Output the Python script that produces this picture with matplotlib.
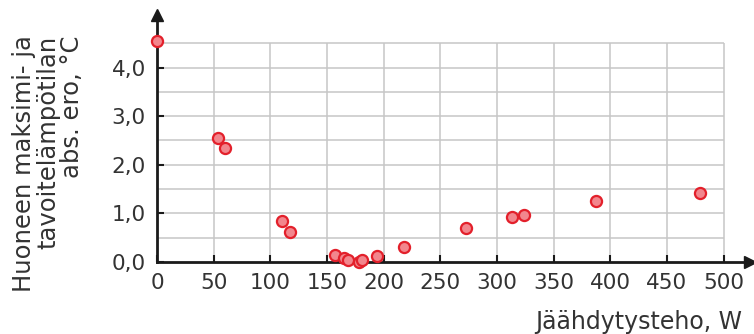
import matplotlib.pyplot as plt

# cooling power (W) vs. abs. difference of room max and target temperature (°C)
power = [0, 54, 60, 110, 117, 157, 165, 169, 178, 181, 194, 218, 273, 313, 324, 387, 479]
temp_diff = [4.55, 2.55, 2.35, 0.84, 0.62, 0.14, 0.08, 0.04, 0.0, 0.04, 0.13, 0.31, 0.69, 0.92, 0.97, 1.25, 1.41]

x_ticks = [0, 50, 100, 150, 200, 250, 300, 350, 400, 450, 500]
y_ticks = [0, 1, 2, 3, 4]
y_ticklabels = ["0,0", "1,0", "2,0", "3,0", "4,0"]

plt.rcParams['font.family'] = 'DejaVu Sans'

fig = plt.figure(figsize=(7.54, 3.34), dpi=100)
ax = fig.add_axes([0.2082, 0.2156, 0.7865, 0.7395])
ax.set_xlim(0, 523.3)
ax.set_ylim(0, 5.08)

# grid only up to 500 W / 4.5 °C
grid_x = [v for v in range(50, 501, 50)]
grid_y = [v / 2 for v in range(1, 10)]
ax.vlines(grid_x, 0, 4.5, color='#c6c6c6', lw=1.1, zorder=1)
ax.hlines(grid_y, 0, 500, color='#c6c6c6', lw=1.1, zorder=1)

for s in ['top', 'right']:
    ax.spines[s].set_visible(False)
for s in ['left', 'bottom']:
    ax.spines[s].set_linewidth(2)
    ax.spines[s].set_color('#1a1a1a')
    ax.spines[s].set_zorder(2)

# arrow heads
ax.plot(1, 0, '>', color='#1a1a1a', markersize=9, transform=ax.transAxes, clip_on=False)
ax.plot(0, 1, '^', color='#1a1a1a', markersize=9, transform=ax.transAxes, clip_on=False)

ax.set_xticks(x_ticks)
ax.set_xticklabels([str(v) for v in x_ticks])
ax.set_yticks(y_ticks)
ax.set_yticklabels(y_ticklabels)
ax.tick_params(direction='in', length=5, width=1.5, color='#1a1a1a',
               labelsize=15.5, labelcolor='#333333', pad=8)

ax.plot(power, temp_diff, 'o', markersize=8, markerfacecolor='#f2868d',
        markeredgecolor='#e3202b', markeredgewidth=1.6, clip_on=False, zorder=5)

fig.text(0.064, 0.509, "Huoneen maksimi- ja\ntavoitelämpötilan\nabs. ero, °C",
         rotation=90, ha='center', va='center', multialignment='right',
         fontsize=17.5, color='#333333', linespacing=1.0)
fig.text(0.984, 0.035, "Jäähdytysteho, W", ha='right', va='center',
         fontsize=17, color='#333333')

plt.savefig("out.png", dpi=100)
